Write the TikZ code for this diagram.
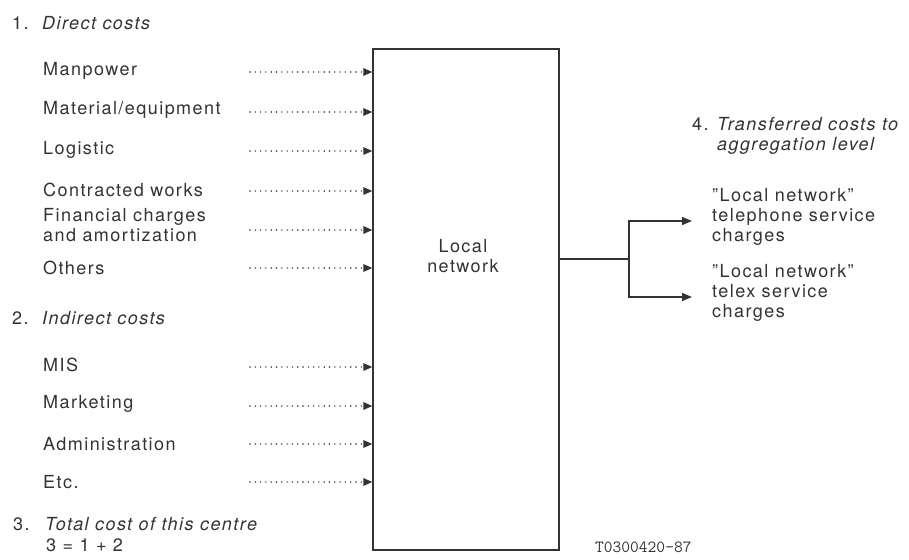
\documentclass[tikz,border=0pt]{standalone}
\usepackage{fontspec}
\setmainfont{TeX Gyre Heros}[LetterSpace=8]
\usepackage{tikz}
\usetikzlibrary{arrows.meta}
\definecolor{ink}{HTML}{333333}

\begin{document}
\begin{tikzpicture}[x=1pt, y=-1pt,
  every node/.style={font=\fontsize{18}{20}\selectfont, text=ink, inner sep=0pt},
  item/.style={anchor=west, align=left},
  head/.style={anchor=west, align=left},
  sumline/.style={anchor=base west},
  centre/.style={draw=ink, line width=1.3pt, minimum width=186pt, minimum height=501pt},
  feed/.style={-{Triangle[length=9pt,width=7.5pt]}, ink, line width=1.6pt,
    line cap=round, dash pattern=on 0pt off 5.3pt},
  transfer/.style={-{Triangle[length=10pt,width=8pt]}, ink, line width=1.2pt},
  link/.style={ink, line width=1.2pt},
]
  \useasboundingbox (0,0) rectangle (909,559);

  % Cost centre
  \node[centre] (ln) at (466,299.5) {};
  \node[align=center] (lntxt) at (463,256) {Local\\network};

  % 1. Direct costs
  \node[head] (dc) at (12,23) {\makebox[30pt][l]{1.}\textit{Direct costs}};
  \node[item] (man) at (43,71)  {Manpower};
  \node[item] (mat) at (43,110) {Material/equipment};
  \node[item] (log) at (43,150) {Logistic};
  \node[item] (con) at (43,190) {Contracted works};
  \node[item] (fin) at (43,225) {Financial charges\\and amortization};
  \node[item] (oth) at (43,268) {Others};

  \coordinate (cman) at (250,72);
  \coordinate (cmat) at (250,112);
  \coordinate (clog) at (250,151);
  \coordinate (ccon) at (250,191);
  \coordinate (cfin) at (250,230);
  \coordinate (coth) at (250,268);
  \draw[feed] (cman) -- (ln.west |- cman);
  \draw[feed] (cmat) -- (ln.west |- cmat);
  \draw[feed] (clog) -- (ln.west |- clog);
  \draw[feed] (ccon) -- (ln.west |- ccon);
  \draw[feed] (cfin) -- (ln.west |- cfin);
  \draw[feed] (coth) -- (ln.west |- coth);

  % 2. Indirect costs
  \node[head] (ic) at (12,318) {\makebox[30pt][l]{2.}\textit{Indirect costs}};
  \node[item] (mis) at (43,365) {MIS};
  \node[item] (mkt) at (43,404) {Marketing};
  \node[item] (adm) at (43,444) {Administration};
  \node[item] (etc) at (43,482) {Etc.};

  \coordinate (cmis) at (250,367);
  \coordinate (cmkt) at (250,406);
  \coordinate (cadm) at (250,444);
  \coordinate (cetc) at (250,482);
  \draw[feed] (cmis) -- (ln.west |- cmis);
  \draw[feed] (cmkt) -- (ln.west |- cmkt);
  \draw[feed] (cadm) -- (ln.west |- cadm);
  \draw[feed] (cetc) -- (ln.west |- cetc);

  % 3. Total cost
  \node[sumline] (tc) at (13,530) {\makebox[32pt][l]{3.}\textit{Total cost of this centre}};
  \node[sumline] (tcsum) at (46,551) {3 = 1 + 2};

  % 4. Transferred costs
  \node[head] (tr) at (692,136)
    {\makebox[25pt][l]{4.}\textit{Transferred costs to}\\\hspace*{25pt}\textit{aggregation level}};
  \node[item] (tel) at (712,217) {''Local network''\\telephone service\\charges};
  \node[item] (tlx) at (712,293) {''Local network''\\telex service\\charges};

  \coordinate (fork) at (629,259);
  \coordinate (ctel) at (692,221);
  \coordinate (ctlx) at (692,297);
  \draw[link] (ln.east |- fork) -- (fork);
  \draw[transfer] (fork) |- (ctel);
  \draw[transfer] (fork) |- (ctlx);

  \node[anchor=west, font=\ttfamily\fontsize{17}{17}\selectfont] (ref) at (595,547) {T0300420-87};
\end{tikzpicture}
\end{document}
